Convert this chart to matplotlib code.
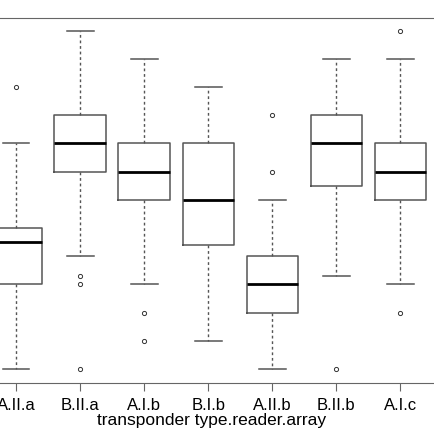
import matplotlib
matplotlib.use("Agg")
import matplotlib.pyplot as plt

plt.rcParams["font.family"] = ["Liberation Sans", "DejaVu Sans"]

labels = ["A.II.a", "B.II.a", "A.I.b", "B.I.b", "A.II.b", "B.II.b", "A.I.c"]
whislo = [0, 4, 3, 1, 0, 3.3, 3]
q1 = [3, 7, 6, 4.4, 2, 6.5, 6]
med = [4.5, 8, 7, 6, 3, 8, 7]
q3 = [5, 9, 8, 8, 4, 9, 8]
whishi = [8, 12, 11, 10, 6, 11, 11]
fliers = [[10], [3.3, 3, 0], [2, 1], [], [7, 9], [0], [2, 12]]

stats = []
for i, lab in enumerate(labels):
    stats.append(dict(label=lab, whislo=whislo[i], q1=q1[i], med=med[i],
                      q3=q3[i], whishi=whishi[i], fliers=fliers[i]))

W = 435
fig = plt.figure(figsize=(4.35, 4.35), dpi=100)
ax = fig.add_axes([-16 / W, 51 / W, 456 / W, 365 / W])

grey = "#555555"
ax.bxp(stats, widths=0.8, showfliers=True,
       boxprops=dict(color=grey, lw=1.1),
       medianprops=dict(color="black", lw=2),
       whiskerprops=dict(color=grey, lw=1, linestyle=(0, (2, 2))),
       capprops=dict(color=grey, lw=1.1),
       flierprops=dict(marker="o", markersize=3, markerfacecolor="none",
                       markeredgecolor="#333333", markeredgewidth=0.7),
       capwidths=0.42)

ax.set_xlim(0.5, 7.62)
ax.set_ylim(-0.5, 12.45)
ax.set_yticks([])
for s in ax.spines.values():
    s.set_color("#666666")
ax.tick_params(axis="x", length=6, color="#666666", labelsize=12, pad=4)
ax.set_xlabel("transponder type.reader.array", fontsize=12.5, labelpad=0)

fig.savefig("out.png", dpi=100)
